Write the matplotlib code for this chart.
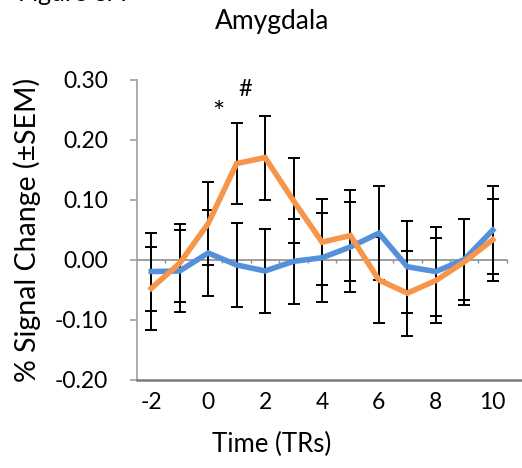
import matplotlib
matplotlib.use("Agg")
import matplotlib.pyplot as plt
import numpy as np

# time points (TRs)
time_trs = [-2, -1, 0, 1, 2, 3, 4, 5, 6, 7, 8, 9, 10]
tick_trs = [-2, 0, 2, 4, 6, 8, 10]

# % signal change
blue_vals = [-0.020, -0.019, 0.011, -0.009, -0.019, -0.003, 0.003,
             0.021, 0.044, -0.012, -0.020, 0.000, 0.049]
blue_sem = [0.065, 0.068, 0.072, 0.070, 0.070, 0.071, 0.074,
            0.075, 0.078, 0.077, 0.074, 0.068, 0.073]
orange_vals = [-0.048, -0.006, 0.060, 0.160, 0.170, 0.098, 0.029,
               0.040, -0.034, -0.056, -0.035, -0.004, 0.033]
orange_sem = [0.069, 0.065, 0.069, 0.068, 0.070, 0.071, 0.072,
              0.076, 0.072, 0.071, 0.071, 0.071, 0.068]

BLUE = '#5591DB'
ORANGE = '#F7964A'
GRID = '#8C8C8C'

plt.rcParams['font.family'] = ['Lato', 'DejaVu Sans']

fig = plt.figure(figsize=(5.22, 4.68), dpi=100)
ax = fig.add_axes([0.2625, 0.189, 1 - 0.2625, 0.641])

# error bars (black) under the lines
ax.errorbar(time_trs, blue_vals, yerr=blue_sem, fmt='none', ecolor='black',
            elinewidth=1.4, capsize=4.5, capthick=1.4, zorder=2)
ax.errorbar(time_trs, orange_vals, yerr=orange_sem, fmt='none', ecolor='black',
            elinewidth=1.4, capsize=4.5, capthick=1.4, zorder=2)

# zero line with small category ticks
ax.plot([-2.5, 10.5], [0, 0], color=GRID, lw=1.2, zorder=1)
bounds = np.arange(-1.5, 11, 1.0)
ax.vlines(bounds, -0.006, 0, color=GRID, lw=1.0, zorder=1)

ax.plot(time_trs, blue_vals, color=BLUE, lw=4.0, zorder=3, solid_joinstyle='miter')
ax.plot(time_trs, orange_vals, color=ORANGE, lw=4.0, zorder=4, solid_joinstyle='miter')

ax.text(0.36, 0.243, '*', fontsize=21, ha='center', va='center')
ax.text(1.31, 0.283, '#', fontsize=17, ha='center', va='center')

ax.set_xlim(-2.5, 11.03)
ax.set_ylim(-0.20, 0.30)
ax.set_yticks([-0.20, -0.10, 0.00, 0.10, 0.20, 0.30])
ax.set_yticklabels(['%.2f' % v for v in [-0.20, -0.10, 0.00, 0.10, 0.20, 0.30]])
ax.set_xticks(tick_trs)
ax.set_xticklabels([str(t) for t in tick_trs])

for s in ['top', 'right']:
    ax.spines[s].set_visible(False)
ax.spines['left'].set_color('#A0A0A0')
ax.spines['left'].set_linewidth(1.2)
ax.spines['bottom'].set_color('#7A7A7A')
ax.spines['bottom'].set_linewidth(1.8)

ax.tick_params(axis='y', length=5, width=1.2, color='#A0A0A0', pad=16, labelsize=16.5)
ax.tick_params(axis='x', length=0, pad=9, labelsize=16.5)

ax.set_ylabel('% Signal Change (\u00b1SEM)', fontsize=20.5, labelpad=10)
ax.set_xlabel('Time (TRs)', fontsize=18.5)
ax.xaxis.set_label_coords((272 - 137) / (522 - 137), -0.175)

fig.text(272 / 522, 1 - 21 / 468, 'Amygdala', fontsize=19, ha='center', va='center')
fig.text(0.035, 1 - 1 / 468, 'Figure 3A', fontsize=18, ha='left', va='baseline')

fig.savefig('out.png', dpi=100)
